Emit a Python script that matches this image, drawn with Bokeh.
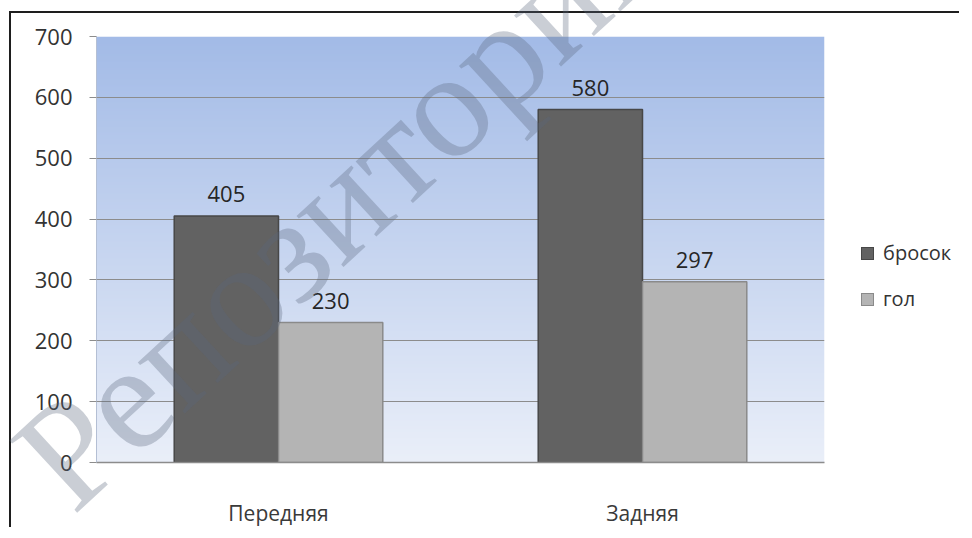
import numpy as np
from bokeh.plotting import figure
from bokeh.models import ColumnDataSource, FactorRange, Range1d, Div
from bokeh.transform import dodge
from bokeh.core.properties import value
from bokeh.embed import file_html
from bokeh.resources import INLINE

categories = ["Передняя", "Задняя"]
series_names = ["бросок", "гол"]
series_colors = ["#626262", "#b4b4b4"]
series_edges = ["#474747", "#8a8a8a"]
brosok = [405, 580]
gol = [230, 297]
y_ticks = [0, 100, 200, 300, 400, 500, 600, 700]
watermark = "Репозиторий"

FONT = "Open Sans"

p = figure(
    x_range=FactorRange(*categories, range_padding=0),
    y_range=Range1d(0, 700),
    width=950, height=516,
    output_backend="svg", toolbar_location=None,
    min_border_left=85, min_border_top=23, min_border_bottom=64, min_border_right=137,
)
p.margin = (11, 0, 0, 9)
p.styles = {"border-left": "2px solid #1e1e1e", "border-top": "2px solid #1e1e1e"}
p.outline_line_color = None
p.background_fill_color = None
p.border_fill_color = "white"

# gradient background of the plot area
N = 430
top = np.array([0xa3, 0xbb, 0xe7], dtype=float)
bot = np.array([0xea, 0xef, 0xf9], dtype=float)
t = np.linspace(0, 1, N)[:, None]
cols = (bot * (1 - t) + top * t).astype(np.uint8)
img = np.empty((N, 1), dtype=np.uint32)
view = img.view(dtype=np.uint8).reshape((N, 1, 4))
view[:, 0, 0] = cols[:, 0]
view[:, 0, 1] = cols[:, 1]
view[:, 0, 2] = cols[:, 2]
view[:, 0, 3] = 255
p.image_rgba(image=[img], x=0, y=0, dw=len(categories), dh=700, level="image")

src = ColumnDataSource(dict(
    cat=categories, b=brosok, g=gol,
    bl=[str(v) for v in brosok], gl=[str(v) for v in gol],
))

W = 0.2865
p.vbar(x=dodge("cat", -W / 2, range=p.x_range), top="b", width=W, source=src,
       fill_color=series_colors[0], line_color=series_edges[0], line_width=1.5)
p.vbar(x=dodge("cat", W / 2, range=p.x_range), top="g", width=W, source=src,
       fill_color=series_colors[1], line_color=series_edges[1], line_width=1.5)

p.text(x=dodge("cat", -W / 2, range=p.x_range), y="b", text="bl", source=src,
       text_align="center", text_baseline="bottom", y_offset=-14,
       text_font=value(FONT), text_font_size="22px", text_color="#262626")
p.text(x=dodge("cat", W / 2, range=p.x_range), y="g", text="gl", source=src,
       text_align="center", text_baseline="bottom", y_offset=-14,
       text_font=value(FONT), text_font_size="22px", text_color="#262626")

# axes
p.yaxis.ticker = y_ticks
p.yaxis.major_label_text_font = FONT
p.yaxis.major_label_text_font_size = "22px"
p.yaxis.major_label_text_color = "#333333"
p.yaxis.major_label_standoff = 17
p.yaxis.major_tick_out = 7
p.yaxis.major_tick_in = 0
p.yaxis.minor_tick_line_color = None
p.yaxis.major_tick_line_color = "#8c8c8c"
p.yaxis.axis_line_color = "#b4bfd4"

p.xaxis.major_label_text_font = FONT
p.xaxis.major_label_text_font_size = "21px"
p.xaxis.major_label_text_color = "#3a3a3a"
p.xaxis.major_label_standoff = 30
p.xaxis.major_tick_line_color = None
p.xaxis.axis_line_color = "#8c8c8c"
p.xaxis.axis_line_width = 1.5

p.xgrid.grid_line_color = None
p.ygrid.grid_line_color = "#8c8c8c"
p.ygrid.grid_line_width = 1.2

# legend + watermark laid over the chart (separate root, pulled up over the figure)
def layer(style, content):
    return ('<div style="width:0;height:0;overflow:visible;pointer-events:none;">'
            '<div style="position:relative;white-space:nowrap;' + style + '">'
            + content + '</div></div>')

legend_tops = [244, 290]
parts = []
for name, fc, ec, tp in zip(series_names, series_colors, series_edges, legend_tops):
    sw = ('<span style="display:inline-block;width:13px;height:13px;background:' + fc +
          ';border:1px solid ' + ec + ';vertical-align:middle;margin-right:9px;'
          'position:relative;top:-1px;"></span>')
    parts.append(layer(
        "left:861px;top:%dpx;height:22px;line-height:22px;font-family:'Open Sans';"
        "font-size:20px;color:#333333;" % tp,
        sw + name))
parts.append(layer(
    "left:74px;top:392px;font-family:'Liberation Serif';font-size:151px;"
    "line-height:151px;color:rgba(90,104,125,0.32);transform-origin:0px 127px;"
    "transform:rotate(-42.7deg);",
    watermark))

wm = Div(text="".join(parts), width=960, height=536)
wm.margin = (-529, 0, 0, 0)

open("out.html", "w").write(file_html([p, wm], INLINE))
